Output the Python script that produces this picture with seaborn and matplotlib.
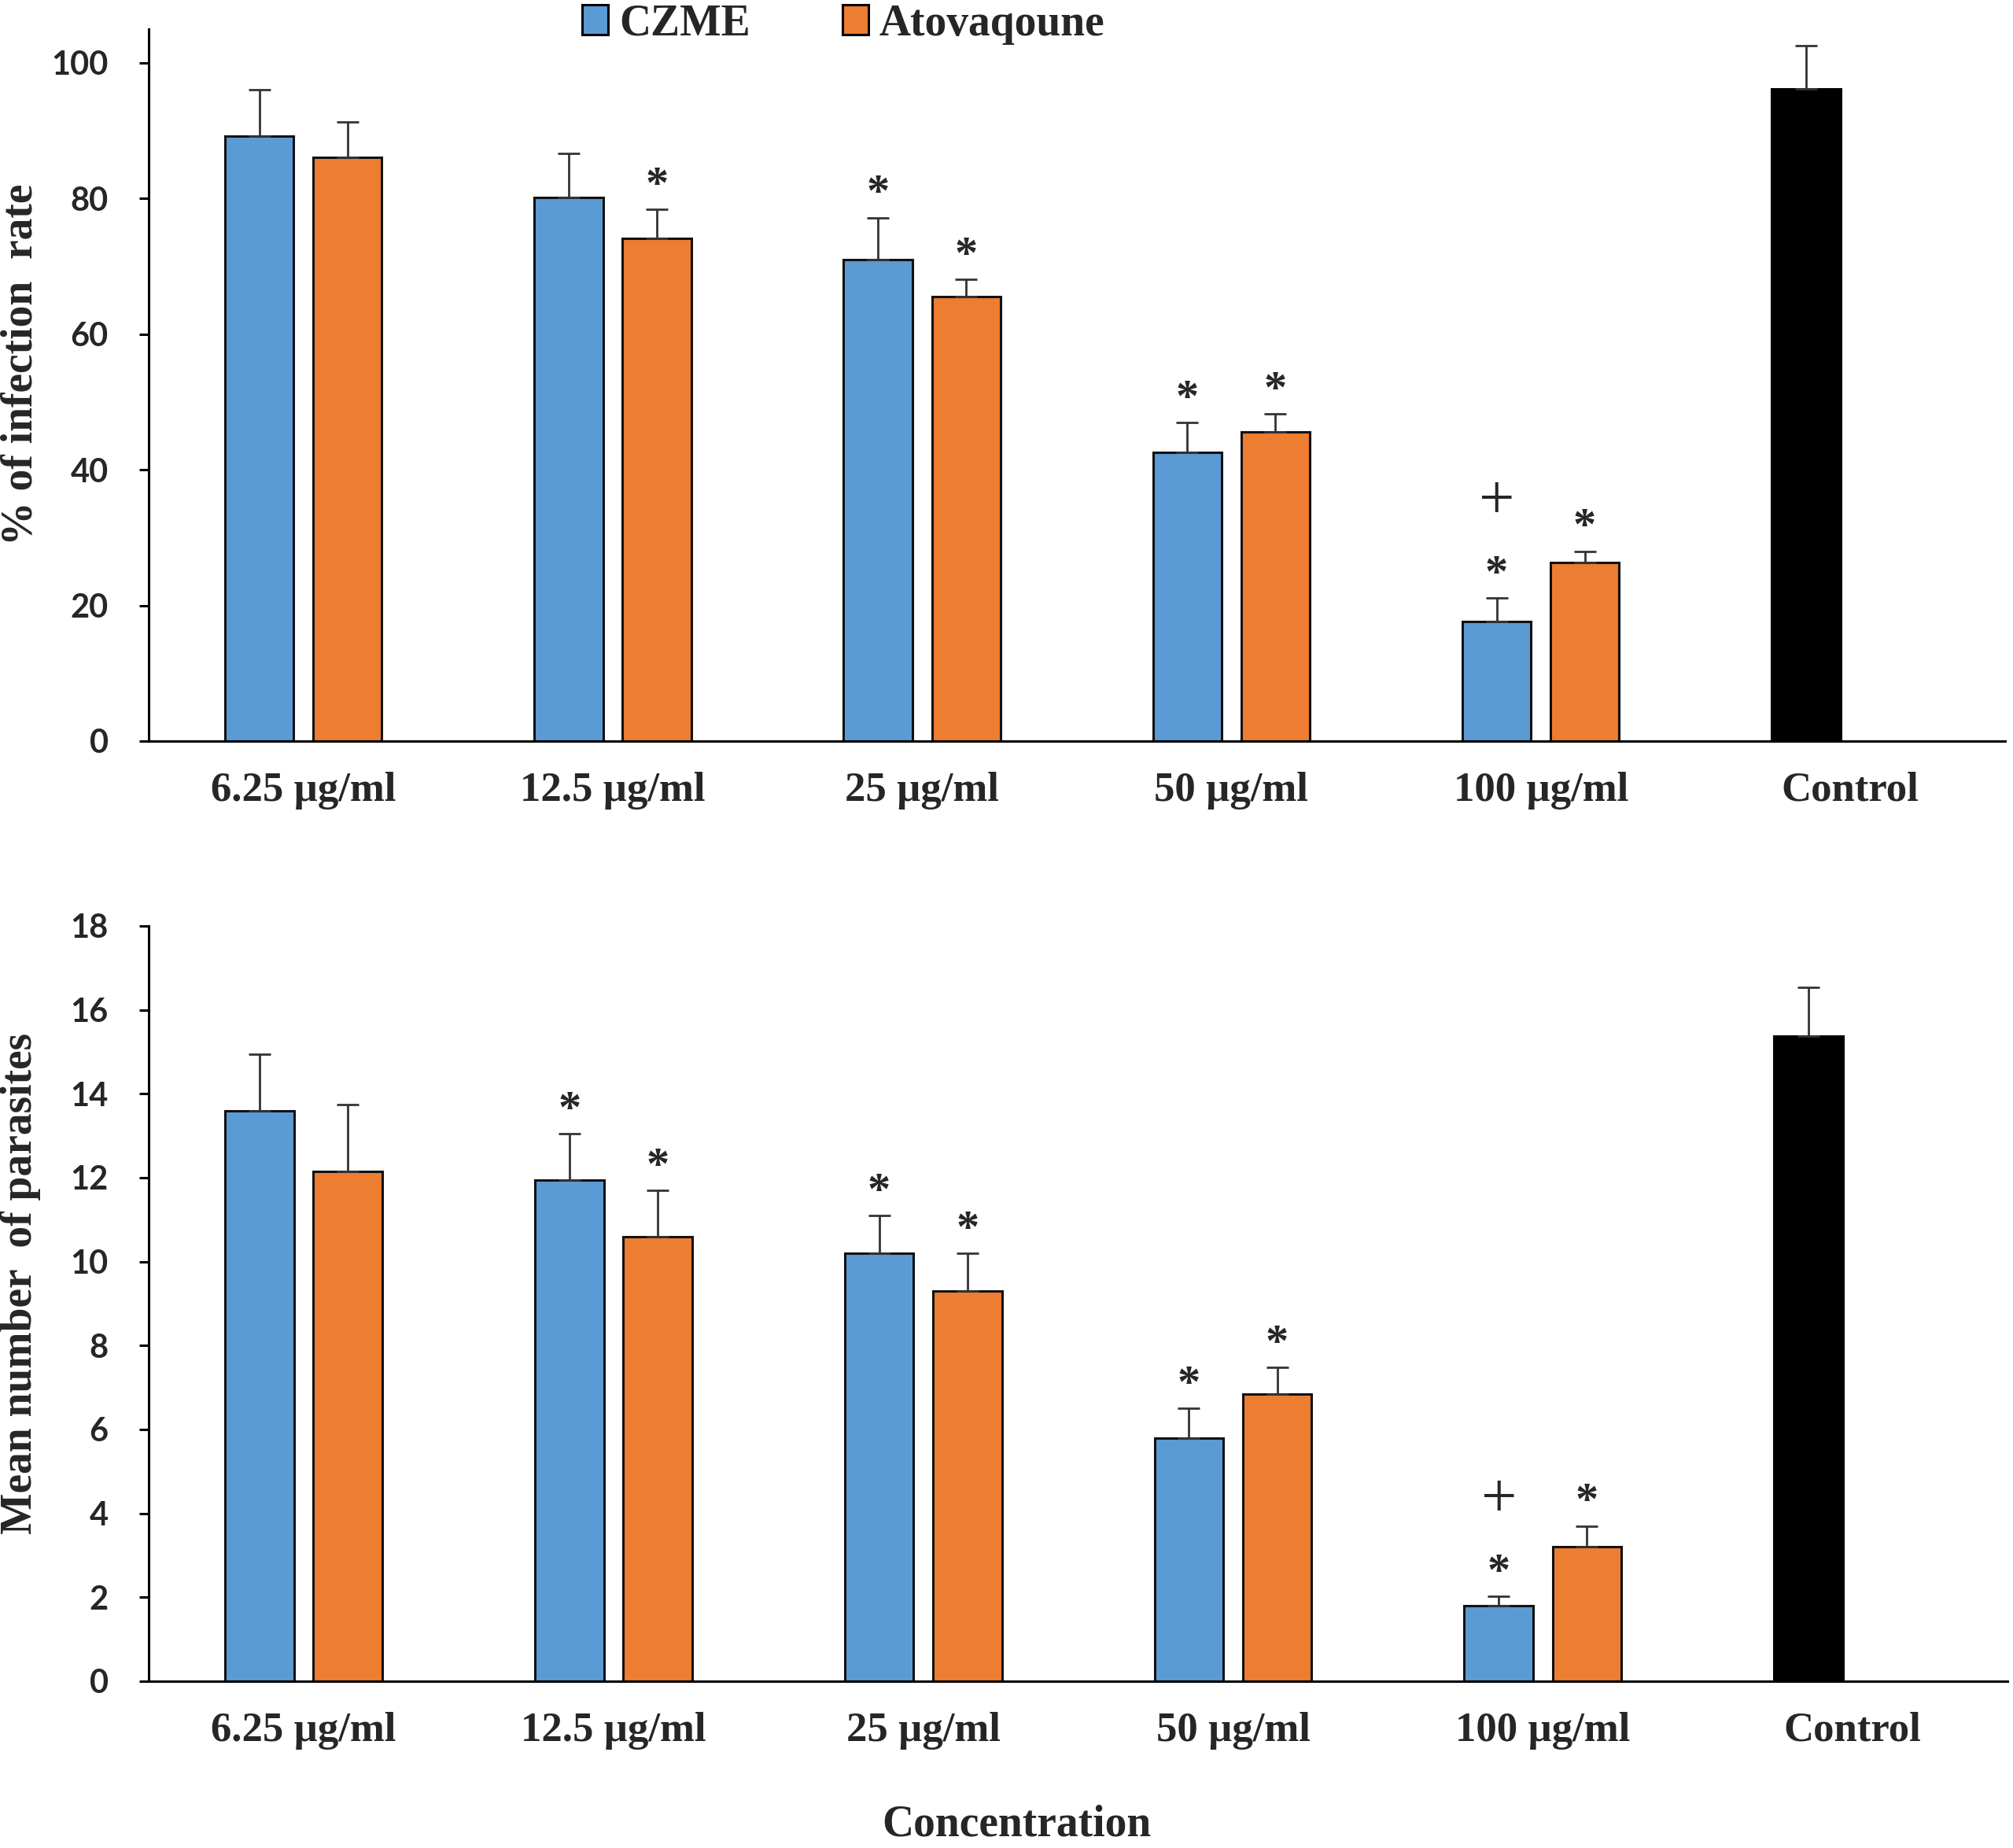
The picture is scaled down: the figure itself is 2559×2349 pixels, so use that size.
import numpy as np
import pandas as pd
import matplotlib.pyplot as plt
import seaborn as sns

# categories and series
categories = ['6.25 µg/ml', '12.5 µg/ml', '25 µg/ml', '50 µg/ml', '100 µg/ml', 'Control']
series = ['CZME', 'Atovaqoune']

# % of infection rate
rate_czme = [89.2, 80.2, 71.0, 42.6, 17.6]
rate_czme_err = [6.9, 6.4, 6.2, 4.4, 3.5]
rate_ato = [86.1, 74.1, 65.5, 45.6, 26.3]
rate_ato_err = [5.2, 4.3, 2.6, 2.6, 1.7]
rate_control = 96.2
rate_control_err = 6.3
rate_star_czme = [False, False, True, True, True]
rate_star_ato = [False, True, True, True, True]
rate_plus_czme = [False, False, False, False, True]

# mean number of parasites
par_czme = [13.6, 11.95, 10.2, 5.8, 1.8]
par_czme_err = [1.35, 1.1, 0.9, 0.7, 0.22]
par_ato = [12.15, 10.6, 9.3, 6.85, 3.2]
par_ato_err = [1.6, 1.1, 0.9, 0.62, 0.5]
par_control = 15.38
par_control_err = 1.16
par_star_czme = [False, True, True, True, True]
par_star_ato = [False, True, True, True, True]
par_plus_czme = [False, False, False, False, True]

colors = {'CZME': '#5B9BD5', 'Atovaqoune': '#ED7D31'}
serif = 'Liberation Serif'

sns.set_style('white')
plt.rcParams['font.family'] = ['Lato', 'DejaVu Sans']
plt.rcParams['font.weight'] = 'bold'


def make_frame(czme, ato, control):
    rows = []
    for i, cat in enumerate(categories[:-1]):
        rows.append((cat, 'CZME', czme[i]))
        rows.append((cat, 'Atovaqoune', ato[i]))
    rows.append((categories[-1], 'CZME', control))
    rows.append((categories[-1], 'Atovaqoune', np.nan))
    return pd.DataFrame(rows, columns=['conc', 'group', 'value'])


def draw_panel(ax, czme, czme_err, ato, ato_err, control, control_err,
               star_czme, star_ato, plus_czme, ymax, yticks, ylabel, label_y, legend):
    df = make_frame(czme, ato, control)
    sns.barplot(data=df, x='conc', y='value', hue='group', order=categories,
                hue_order=series, palette=colors, saturation=1, width=0.57, gap=0.22,
                errorbar=None, edgecolor='#111111', linewidth=1.1,
                legend=legend, ax=ax)

    err = {'CZME': czme_err + [control_err], 'Atovaqoune': ato_err}
    stars = {'CZME': star_czme, 'Atovaqoune': star_ato}
    for p in ax.patches:
        h = p.get_height()
        if not np.isfinite(h) or h <= 0:
            continue
        cx = p.get_x() + p.get_width() / 2
        idx = int(round(cx))
        grp = 'CZME' if cx < idx else 'Atovaqoune'
        if idx == len(categories) - 1:
            p.set_facecolor('black')
            p.set_edgecolor('black')
        e = err[grp][idx]
        ax.errorbar(cx, h, yerr=[[0], [e]], fmt='none', ecolor='#333333',
                    elinewidth=1.0, capsize=5, capthick=1.0, zorder=5)
        if idx < len(categories) - 1:
            if stars[grp][idx]:
                ax.annotate('*', xy=(cx, h + e), xytext=(0, 5.5),
                            textcoords='offset points', ha='center', va='baseline',
                            fontfamily=serif, fontweight='bold', fontsize=21)
            if grp == 'CZME' and plus_czme[idx]:
                ax.annotate('+', xy=(cx, h + e), xytext=(0, 36.5),
                            textcoords='offset points', ha='center', va='baseline',
                            fontfamily=serif, fontweight='normal', fontsize=29)

    ax.set_xlim(-0.5, len(categories) - 0.5)
    ax.set_xticks(np.arange(-0.5, len(categories), 1.0))
    ax.set_xticklabels([])
    ax.set_xticks(range(len(categories)), minor=True)
    ax.set_xticklabels(categories, minor=True, fontfamily=serif,
                       fontweight='bold', fontsize=19)
    ax.tick_params(axis='x', which='minor', length=0, pad=14)
    ax.tick_params(axis='x', which='major', length=6, width=1.1, direction='out', color='black')
    ax.set_ylim(0, ymax)
    ax.set_yticks(yticks)
    ax.tick_params(axis='y', length=4.5, width=1.1, direction='out', labelsize=15,
                   pad=14, color='black', left=True)
    ax.set_xlabel('')
    ax.set_ylabel(ylabel, fontfamily=serif, fontweight='bold', fontsize=20)
    ax.yaxis.set_label_coords(-0.058, label_y)
    sns.despine(ax=ax)
    for s in ['left', 'bottom']:
        ax.spines[s].set_linewidth(1.1)
        ax.spines[s].set_color('black')


fig = plt.figure(figsize=(12.795, 11.745), dpi=200)
ax1 = fig.add_axes([0.0739, 0.599, 0.922, 0.3853])
ax2 = fig.add_axes([0.0739, 0.0903, 0.9234, 0.4087])

draw_panel(ax1, rate_czme, rate_czme_err, rate_ato, rate_ato_err, rate_control,
           rate_control_err, rate_star_czme, rate_star_ato, rate_plus_czme,
           105, range(0, 101, 20), '% of infection  rate', 0.529, True)
draw_panel(ax2, par_czme, par_czme_err, par_ato, par_ato_err, par_control,
           par_control_err, par_star_czme, par_star_ato, par_plus_czme,
           18, range(0, 19, 2), 'Mean number  of parasites', 0.526, False)

leg = ax1.get_legend()
handles = leg.legend_handles
labels = [t.get_text() for t in leg.get_texts()]
leg.remove()
for h in handles:
    h.set_edgecolor('black')
    h.set_linewidth(1.1)
fig.legend(handles, labels, loc='center', bbox_to_anchor=(0.419, 0.987), ncol=2,
           frameon=False, handlelength=0.6, handleheight=0.65, handletextpad=0.25,
           columnspacing=2.1, prop={'family': serif, 'weight': 'bold', 'size': 20})

fig.text(0.505, 0.0125, 'Concentration', ha='center', va='center',
         fontfamily=serif, fontweight='bold', fontsize=20)

fig.savefig('out.png', dpi=200)
